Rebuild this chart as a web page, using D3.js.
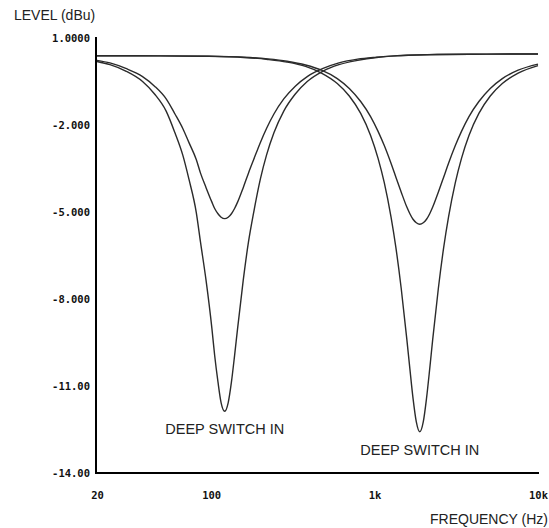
<!DOCTYPE html>
<html>
<head>
<meta charset="utf-8">
<script src="https://cdn.jsdelivr.net/npm/d3@7"></script>
<style>
  body { margin: 0; background: #fff; }
  svg { display: block; }
</style>
</head>
<body>
<div id="chart"></div>
<script>
'use strict';

// level (dBu) vs frequency (Hz)
let lowFreqs = [20, 24, 30, 38, 45, 53, 60, 67, 73, 81, 86, 93, 101, 105, 110, 115, 121,
    127, 133, 139, 145, 157, 169, 182, 200, 218, 242, 278, 327, 387, 484, 605, 787, 1030, 1450, 2420, 4840, 10000];
let lowNormal = [0.23, 0.14, -0.05, -0.33, -0.66, -1.10, -1.62, -2.12, -2.60, -3.19, -3.66, -4.16, -4.66, -4.88, -5.06, -5.18, -5.23,
    -5.18, -5.06, -4.88, -4.66, -4.16, -3.66, -3.19, -2.60, -2.12, -1.62, -1.10, -0.66, -0.33, -0.05, 0.14, 0.27, 0.34, 0.40, 0.43, 0.445, 0.45];
let lowDeep = [0.19, 0.08, -0.14, -0.50, -0.93, -1.52, -2.27, -3.04, -3.86, -5.01, -6.04, -7.36, -9.02, -9.95, -10.86, -11.58, -11.87,
    -11.58, -10.86, -9.95, -9.02, -7.36, -6.04, -5.01, -3.86, -3.04, -2.27, -1.52, -0.93, -0.50, -0.14, 0.08, 0.23, 0.33, 0.39, 0.43, 0.445, 0.45];

let highFreqs = [20, 47, 95, 158, 222, 291, 378, 473, 591, 700, 822, 945, 1050, 1146, 1260, 1350, 1454, 1575, 1644, 1718, 1800, 1890,
    1985, 2079, 2174, 2268, 2457, 2646, 2835, 3119, 3402, 3780, 4347, 5103, 6048, 7560, 10000];
let highNormal = [0.39, 0.385, 0.37, 0.34, 0.28, 0.20, 0.07, -0.11, -0.40, -0.74, -1.19, -1.71, -2.22, -2.71, -3.32, -3.80, -4.31, -4.83, -5.06, -5.25, -5.37, -5.42,
    -5.37, -5.25, -5.06, -4.83, -4.31, -3.80, -3.32, -2.71, -2.22, -1.71, -1.19, -0.74, -0.40, -0.11, 0.10];
let highDeep = [0.39, 0.385, 0.37, 0.33, 0.26, 0.17, 0.02, -0.21, -0.57, -1.00, -1.60, -2.36, -3.15, -3.99, -5.17, -6.23, -7.62, -9.39, -10.41, -11.42, -12.24, -12.58,
    -12.24, -11.42, -10.41, -9.39, -7.62, -6.23, -5.17, -3.99, -3.15, -2.36, -1.60, -1.00, -0.57, -0.21, 0.05];

let yTicks = [1, -2, -5, -8, -11, -14];
let yTickLabels = ['1.0000', '-2.000', '-5.000', '-8.000', '-11.00', '-14.00'];
let xTicks = [20, 100, 1000, 10000];
let xTickLabels = ['20', '100', '1k', '10k'];

let labels = [
    {text: 'DEEP SWITCH IN', freq: 121, level: -11.87},
    {text: 'DEEP SWITCH IN', freq: 1890, level: -12.58}
];

draw();

function draw() {
    let width = 549, height = 528;
    let svg = d3.select('#chart')
        .append('svg')
        .attr('width', width)
        .attr('height', height);

    let x = d3.scaleLog().domain([20, 10000]).range([97, 538]);
    let y = d3.scaleLinear().domain([-14, 1]).range([473, 38]);

    let monoFont = '"DejaVu Sans Mono", monospace';
    let sansFont = '"Liberation Sans", Arial, sans-serif';

    // axes
    let yAxis = d3.axisLeft(y)
        .tickValues(yTicks)
        .tickFormat(function (d, i) { return yTickLabels[i]; })
        .tickSize(0)
        .tickPadding(6);
    let gy = svg.append('g')
        .attr('transform', 'translate(96,0)')
        .call(yAxis);

    let xAxis = d3.axisBottom(x)
        .tickValues(xTicks)
        .tickFormat(function (d, i) { return xTickLabels[i]; })
        .tickSize(0)
        .tickPadding(19);
    let gx = svg.append('g')
        .attr('transform', 'translate(0,473)')
        .call(xAxis);

    [gx, gy].forEach(function (g) {
        g.select('.domain')
            .attr('stroke', '#000')
            .attr('stroke-width', 2);
        g.selectAll('.tick text')
            .attr('fill', '#111')
            .style('font-family', monoFont)
            .style('font-weight', 'bold')
            .style('font-size', '10.5px');
    });
    gx.select('.domain').attr('d', 'M96,0H539');
    gy.select('.domain').attr('d', 'M0,37V474');

    // curves
    let series = [
        {f: lowFreqs, v: lowNormal},
        {f: lowFreqs, v: lowDeep},
        {f: highFreqs, v: highNormal},
        {f: highFreqs, v: highDeep}
    ];
    let line = d3.line()
        .x(function (d) { return x(d[0]); })
        .y(function (d) { return y(d[1]); })
        .curve(d3.curveMonotoneX);

    svg.append('g')
        .selectAll('path')
        .data(series)
        .enter()
        .append('path')
        .attr('d', function (s) {
            return line(s.f.map(function (f, i) { return [f, s.v[i]]; }));
        })
        .attr('fill', 'none')
        .attr('stroke', '#2b2b2b')
        .attr('stroke-width', 1.4);

    // annotations
    svg.append('g')
        .selectAll('text')
        .data(labels)
        .enter()
        .append('text')
        .attr('x', function (d) { return x(d.freq); })
        .attr('y', function (d) { return y(d.level) + 23; })
        .attr('text-anchor', 'middle')
        .attr('fill', '#222')
        .style('font-family', sansFont)
        .style('font-size', '14.5px')
        .text(function (d) { return d.text; });

    svg.append('text')
        .attr('x', 14)
        .attr('y', 20)
        .attr('fill', '#222')
        .style('font-family', sansFont)
        .style('font-size', '14px')
        .text('LEVEL (dBu)');

    svg.append('text')
        .attr('x', 548)
        .attr('y', 524)
        .attr('text-anchor', 'end')
        .attr('fill', '#222')
        .style('font-family', sansFont)
        .style('font-size', '14px')
        .text('FREQUENCY (Hz)');
}
</script>
</body>
</html>
